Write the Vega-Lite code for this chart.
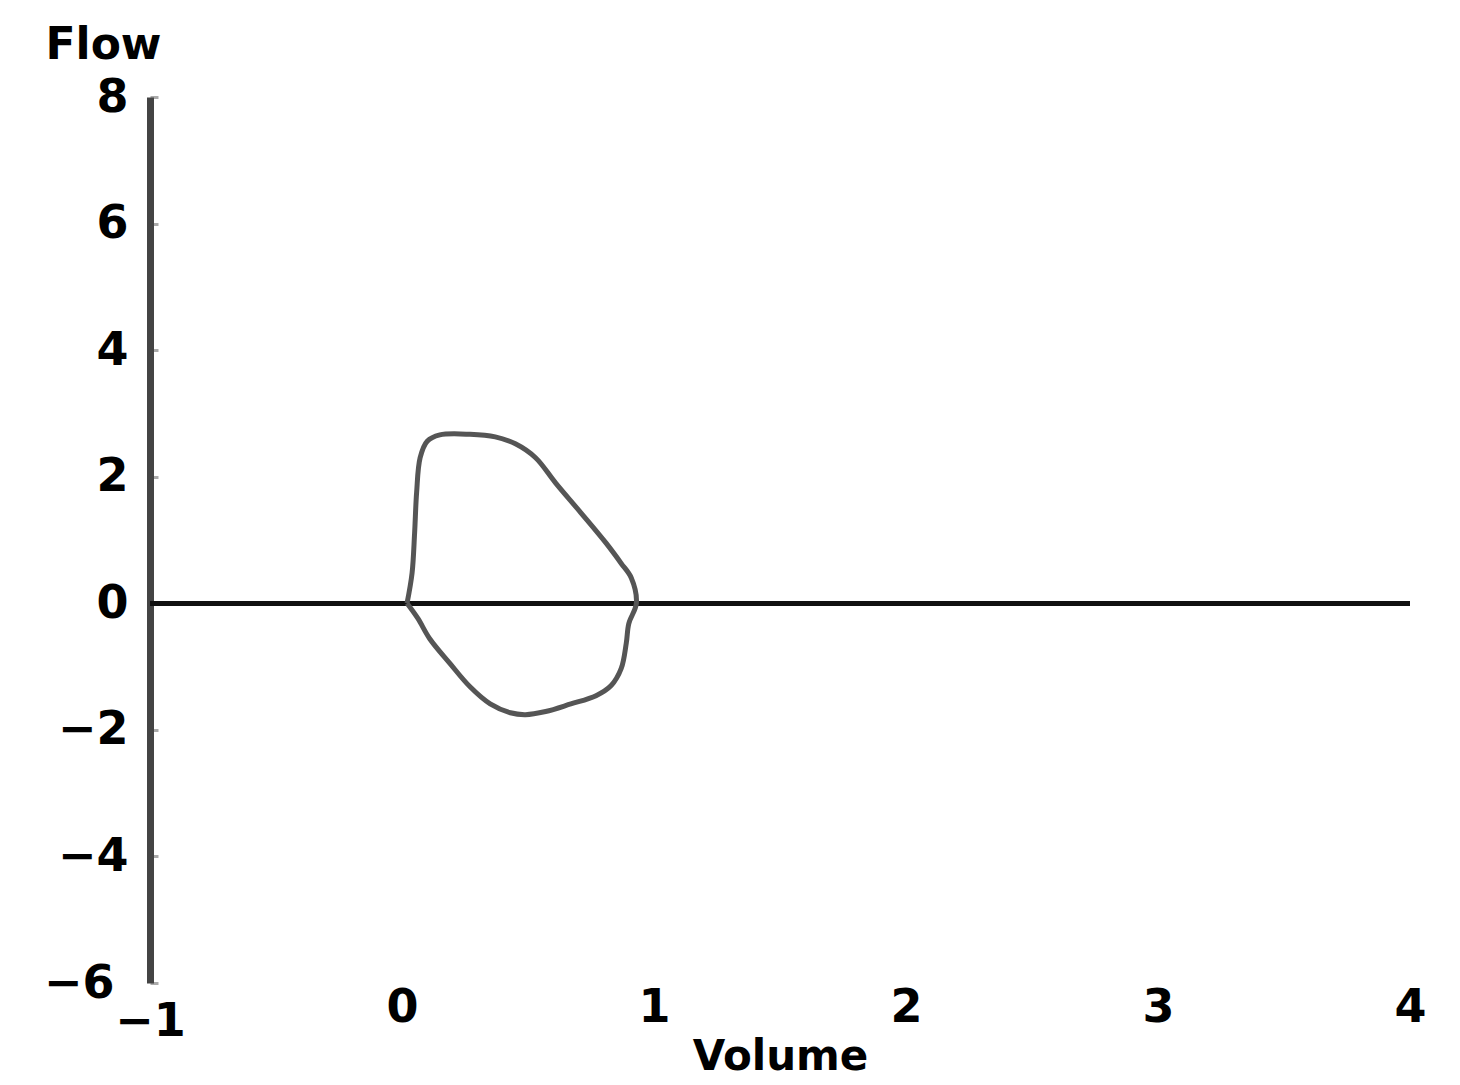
{
  "$schema": "https://vega.github.io/schema/vega-lite/v6.json",
  "autosize": {"type": "none"},
  "width": 1260,
  "height": 886,
  "padding": {"left": 150, "top": 97, "right": 50, "bottom": 102},
  "background": "#ffffff",
  "config": {
    "view": {"stroke": null},
    "axis": {"labelFont": "DejaVu Sans", "titleFont": "DejaVu Sans", "labelColor": "#000", "titleColor": "#000", "grid": false}
  },
  "data": {
    "values": [
      {"order": 1, "volume": 0.02, "flow": 0},
      {"order": 2, "volume": 0.04, "flow": 0.48},
      {"order": 3, "volume": 0.05, "flow": 1.11},
      {"order": 4, "volume": 0.058, "flow": 1.75},
      {"order": 5, "volume": 0.072, "flow": 2.3},
      {"order": 6, "volume": 0.1, "flow": 2.56},
      {"order": 7, "volume": 0.15, "flow": 2.66},
      {"order": 8, "volume": 0.27, "flow": 2.67},
      {"order": 9, "volume": 0.37, "flow": 2.63},
      {"order": 10, "volume": 0.45, "flow": 2.52},
      {"order": 11, "volume": 0.53, "flow": 2.3},
      {"order": 12, "volume": 0.61, "flow": 1.9},
      {"order": 13, "volume": 0.71, "flow": 1.43},
      {"order": 14, "volume": 0.81, "flow": 0.95},
      {"order": 15, "volume": 0.87, "flow": 0.63},
      {"order": 16, "volume": 0.91, "flow": 0.4},
      {"order": 17, "volume": 0.93, "flow": 0},
      {"order": 18, "volume": 0.9, "flow": -0.32},
      {"order": 19, "volume": 0.89, "flow": -0.63},
      {"order": 20, "volume": 0.87, "flow": -1.03},
      {"order": 21, "volume": 0.83, "flow": -1.3},
      {"order": 22, "volume": 0.77, "flow": -1.46},
      {"order": 23, "volume": 0.67, "flow": -1.59},
      {"order": 24, "volume": 0.57, "flow": -1.71},
      {"order": 25, "volume": 0.49, "flow": -1.76},
      {"order": 26, "volume": 0.43, "flow": -1.73},
      {"order": 27, "volume": 0.35, "flow": -1.59},
      {"order": 28, "volume": 0.27, "flow": -1.32},
      {"order": 29, "volume": 0.19, "flow": -0.95},
      {"order": 30, "volume": 0.11, "flow": -0.56},
      {"order": 31, "volume": 0.063, "flow": -0.24},
      {"order": 32, "volume": 0.02, "flow": 0}
    ]
  },
  "layer": [
    {
      "mark": {"type": "rule", "color": "#111", "strokeWidth": 4},
      "encoding": {"y": {"datum": 0, "type": "quantitative", "scale": {"domain": [-6, 8]}}}
    },
    {
      "mark": {"type": "line", "color": "#555", "strokeWidth": 5, "interpolate": "catmull-rom"},
      "encoding": {
        "x": {
          "field": "volume", "type": "quantitative",
          "scale": {"domain": [-1, 4], "nice": false, "zero": false},
          "axis": {
            "orient": "bottom", "values": [-1, 0, 1, 2, 3, 4], "format": "d", "domain": false, "ticks": false,
            "labelFontSize": 46, "labelFontWeight": 900,
            "labelPadding": {"condition": {"test": "datum.value == -1", "value": 16}, "value": 2},
            "labelFlush": false,
            "title": "Volume", "titleFontSize": 42, "titleFontWeight": 900,
            "titleBaseline": "alphabetic", "titleY": 86
          }
        },
        "y": {
          "field": "flow", "type": "quantitative",
          "scale": {"domain": [-6, 8], "nice": false, "zero": false},
          "axis": {
            "values": [-6, -4, -2, 0, 2, 4, 6, 8], "format": "d", "domain": true, "domainWidth": 7, "domainColor": "#444",
            "ticks": true, "tickSize": -8, "tickColor": "#aaa", "tickWidth": 3,
            "labelFontSize": 46, "labelFontWeight": 900,
            "labelPadding": {"condition": {"test": "datum.value == -6", "value": 44}, "value": 30},
            "title": "Flow", "titleFontSize": 44, "titleFontWeight": 900, "titleAngle": 0,
            "titleAlign": "left", "titleBaseline": "bottom", "titleX": -105, "titleY": -30
          }
        },
        "order": {"field": "order", "type": "quantitative"}
      }
    }
  ]
}
